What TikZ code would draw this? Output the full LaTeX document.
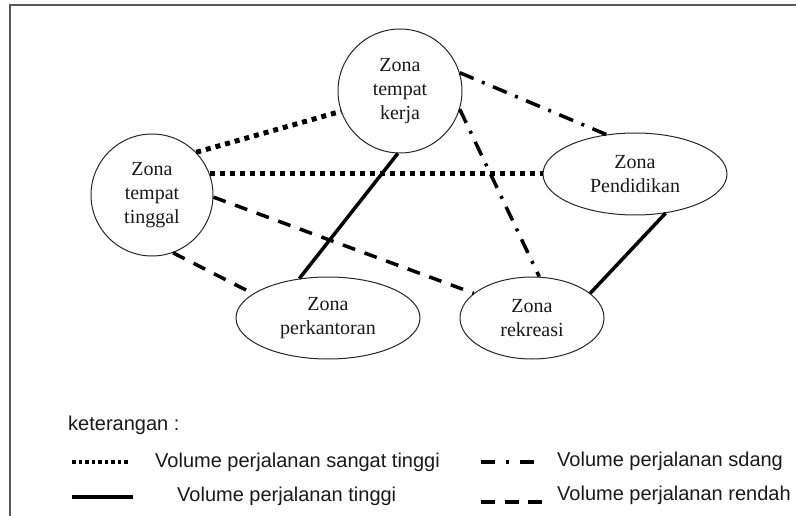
\documentclass[tikz,border=0pt]{standalone}
\usepackage{fontspec}
\setmainfont{Liberation Serif}
\newfontfamily\legendfont{Liberation Sans}
\usetikzlibrary{shapes.geometric}
\begin{document}
\begin{tikzpicture}[x=1pt,y=-1pt,
  zone/.style={draw=black!85, line width=1pt, align=center, inner sep=0pt,
    font=\fontsize{20}{24}\selectfont, text=black!90},
  zonecirc/.style={zone, circle},
  zoneell/.style={zone, ellipse},
  vhigh/.style={line width=5pt, dash pattern=on 5pt off 5pt},
  high/.style={line width=3.5pt},
  mid/.style={line width=3.5pt, dash pattern=on 15pt off 9pt on 3pt off 9pt},
  low/.style={line width=3.5pt, dash pattern=on 13pt off 10pt},
  legvhigh/.style={line width=3.5pt, dash pattern=on 3.5pt off 3pt},
  leghigh/.style={line width=4pt},
  legmid/.style={line width=4pt, dash pattern=on 14pt off 11pt on 3pt off 11pt},
  leglow/.style={line width=4pt, dash pattern=on 14pt off 9.5pt},
  legtext/.style={font=\legendfont\fontsize{20}{24}\selectfont, text=black!90, inner sep=0pt},
  frame/.style={draw=black!65, line width=1.5pt}
]
\useasboundingbox (0,0) rectangle (796,516);
% frame
\coordinate (fbl) at (10,516);
\coordinate (ftl) at (10,5);
\coordinate (ftr) at (796,5);
\draw[frame] (fbl) -- (ftl) -- (ftr);

% zones
\node[zonecirc, minimum size=124pt] (kerja) at (400,91) {Zona\\tempat\\kerja};
\node[zonecirc, minimum size=122pt] (tinggal) at (152,195) {Zona\\tempat\\tinggal};
\node[zoneell, minimum width=184pt, minimum height=82pt] (pend) at (635,174) {Zona\\Pendidikan};
\node[zoneell, minimum width=184pt, minimum height=82pt] (kantor) at (328,318) {Zona\\perkantoran};
\node[zoneell, minimum width=144pt, minimum height=82pt] (rekreasi) at (532,318) {Zona\\rekreasi};

% connectors
\draw[vhigh] (tinggal.44) -- (kerja.199);
\draw[vhigh] (tinggal.20) -- (pend.west |- tinggal.20);
\draw[mid] (kerja.17) -- (pend.126);
\draw[mid] (kerja.343) -- (rekreasi.80);
\draw[high] (kerja.268) -- (kantor.126);
\draw[low] (tinggal.358) -- (rekreasi.157);
\draw[low] (tinggal.290) -- (kantor.162);
\draw[high] (pend.308) -- (rekreasi.23);

% legend
\node[legtext, anchor=base west] (ket) at (68,430) {keterangan :};
\coordinate (s1a) at (72,462);
\coordinate (s1b) at (130,462);
\draw[legvhigh] (s1a) -- (s1b);
\node[legtext, anchor=base west] (t1) at (155,467) {Volume perjalanan sangat tinggi};
\coordinate (s2a) at (72,497);
\coordinate (s2b) at (133,497);
\draw[leghigh] (s2a) -- (s2b);
\node[legtext, anchor=base west] (t2) at (177,501) {Volume perjalanan tinggi};
\coordinate (s3a) at (481,462);
\coordinate (s3b) at (543,462);
\draw[legmid] (s3a) -- (s3b);
\node[legtext, anchor=base west] (t3) at (557,466) {Volume perjalanan sdang};
\coordinate (s4a) at (481,502);
\coordinate (s4b) at (543,502);
\draw[leglow] (s4a) -- (s4b);
\node[legtext, anchor=base west] (t4) at (557,500) {Volume perjalanan rendah};
\end{tikzpicture}
\end{document}
